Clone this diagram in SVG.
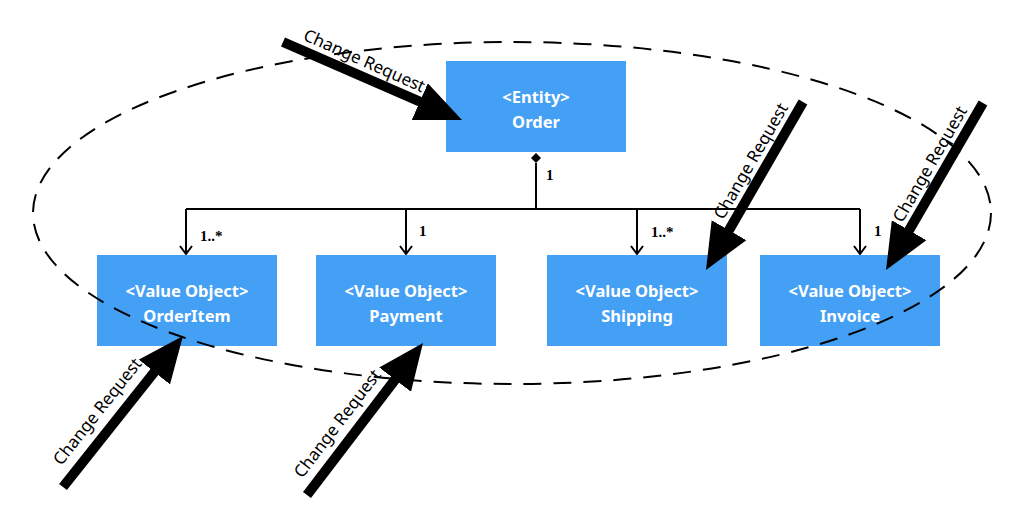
<svg xmlns="http://www.w3.org/2000/svg" width="1024" height="506" viewBox="0 0 1024 506">
<style>
.box{fill:#44a0f5}
.bt{font-family:"Comic Sans MS","Noto Sans",sans-serif;font-size:16.5px;font-weight:bold;fill:#fff;text-anchor:middle}
.ln{fill:none;stroke:#000;stroke-width:2}
.mult{font-family:"Liberation Serif",serif;font-size:15px;font-weight:bold;fill:#000}
.cr{stroke:#000;stroke-width:10;fill:none}
.crt{font-family:"Comic Sans MS","Noto Sans",sans-serif;font-size:17px;fill:#000;text-anchor:middle}
</style>
<defs>
<marker id="open" viewBox="0 0 16 12" refX="8" refY="11" markerWidth="16" markerHeight="12" markerUnits="userSpaceOnUse" orient="0">
<path d="M2,3 L8,11 L14,3" fill="none" stroke="#000" stroke-width="2"/>
</marker>
<marker id="big" viewBox="0 0 46 40" refX="16" refY="20" markerWidth="46" markerHeight="40" markerUnits="userSpaceOnUse" orient="auto">
<path d="M0,0 L46,20 L0,40 Z" fill="#000"/>
</marker>
</defs>
<rect width="1024" height="506" fill="#fff"/>
<g id="order"><rect class="box" x="446" y="61" width="180" height="91"/><text class="bt" x="536" y="103">&lt;Entity&gt;</text><text class="bt" x="536" y="128">Order</text></g>
<g id="orderitem"><rect class="box" x="97" y="255" width="180" height="91"/><text class="bt" x="187" y="297">&lt;Value Object&gt;</text><text class="bt" x="187" y="322">OrderItem</text></g>
<g id="payment"><rect class="box" x="316" y="255" width="180" height="91"/><text class="bt" x="406" y="297">&lt;Value Object&gt;</text><text class="bt" x="406" y="322">Payment</text></g>
<g id="shipping"><rect class="box" x="547" y="255" width="180" height="91"/><text class="bt" x="637" y="297">&lt;Value Object&gt;</text><text class="bt" x="637" y="322">Shipping</text></g>
<g id="invoice"><rect class="box" x="760" y="255" width="180" height="91"/><text class="bt" x="850" y="297">&lt;Value Object&gt;</text><text class="bt" x="850" y="322">Invoice</text></g>
<g id="connectors">
<path class="ln" d="M536,163 V209"/>
<path d="M536,153 L541,158 L536,163 L531,158 Z" fill="#000"/>
<path class="ln" d="M186,209 H860"/>
<path class="ln" d="M186,209 V254" marker-end="url(#open)"/>
<path class="ln" d="M406,209 V254" marker-end="url(#open)"/>
<path class="ln" d="M637,209 V254" marker-end="url(#open)"/>
<path class="ln" d="M860,209 V254" marker-end="url(#open)"/>
<text class="mult" x="546" y="180">1</text>
<text class="mult" x="200" y="241">1..*</text>
<text class="mult" x="419" y="236">1</text>
<text class="mult" x="651" y="237">1..*</text>
<text class="mult" x="874" y="236">1</text>
</g>
<ellipse cx="512" cy="213" rx="479" ry="171" fill="none" stroke="#000" stroke-width="2" stroke-dasharray="18 12"/>
<g id="change-requests">
<path class="cr" d="M283,42 L434.5,108" marker-end="url(#big)"/>
<path class="cr" d="M63,487 L164.3,359.5" marker-end="url(#big)"/>
<path class="cr" d="M307,495 L404.8,366.9" marker-end="url(#big)"/>
<path class="cr" d="M803,102 L721,244" marker-end="url(#big)"/>
<path class="cr" d="M983,103 L901.1,244.1" marker-end="url(#big)"/>
<text class="crt" transform="translate(362,66) rotate(24)">Change Request</text>
<text class="crt" transform="translate(102,415) rotate(-51.5)">Change Request</text>
<text class="crt" transform="translate(342,427) rotate(-52.6)">Change Request</text>
<text class="crt" transform="translate(756,164) rotate(-60)">Change Request</text>
<text class="crt" transform="translate(935,167) rotate(-60)">Change Request</text>
</g>
</svg>
